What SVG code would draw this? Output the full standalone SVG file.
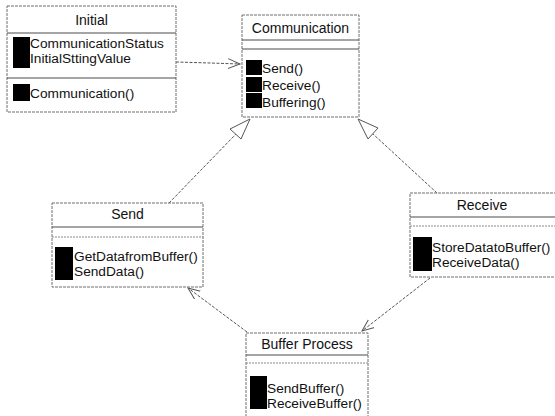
<svg xmlns="http://www.w3.org/2000/svg" width="555" height="416" viewBox="0 0 555 416">
  <style>
    .box { fill: #ffffff; stroke: #6e6e6e; stroke-width: 1; stroke-dasharray: 3 1; }
    .sep { stroke: #4a4a4a; stroke-width: 1; }
    .sep2 { stroke: #8a8a8a; stroke-width: 1; stroke-dasharray: 2 1; }
    .mark { fill: #000000; }
    .title { font-family: "Liberation Sans", Arial, sans-serif; font-size: 14px; fill: #111; text-anchor: middle; }
    .member { font-family: "Liberation Sans", Arial, sans-serif; font-size: 13.7px; fill: #111; }
    .link { fill: none; stroke: #555; stroke-width: 1; stroke-dasharray: 3 1.5; }
    .tri { fill: #ffffff; stroke: #555; stroke-width: 1; }
  </style>
  <defs>
    <marker id="open" markerUnits="userSpaceOnUse" markerWidth="14" markerHeight="12" refX="12" refY="5" orient="auto" viewBox="0 0 14 10">
      <path d="M0,0 L12,5 L0,10" fill="none" stroke="#555" stroke-width="1"/>
    </marker>
  </defs>

  <rect width="555" height="416" fill="#ffffff"/>

  <!-- connectors -->
  <g id="connectors">
    <!-- dependency: Initial uses Communication -->
    <polyline class="link" points="176,62 210,63 240,64" marker-end="url(#open)"/>
    <!-- generalization: Send -> Communication -->
    <line class="link" x1="169" y1="203" x2="236" y2="134"/>
    <polygon class="tri" points="250,119 230,129 241,139"/>
    <!-- generalization: Receive -> Communication -->
    <line class="link" x1="437" y1="193" x2="373" y2="134"/>
    <polygon class="tri" points="358,119 378,128 368,139"/>
    <!-- association: Receive -> Buffer Process -->
    <line class="link" x1="430" y1="278" x2="362" y2="331" marker-end="url(#open)"/>
    <!-- association: Buffer Process -> Send -->
    <line class="link" x1="247" y1="332" x2="188" y2="288" marker-end="url(#open)"/>
  </g>

  <!-- Initial -->
  <g id="initial">
    <rect class="box" x="7" y="6" width="169" height="106"/>
    <line class="sep" x1="7" y1="33" x2="176" y2="33"/>
    <line class="sep" x1="7" y1="78" x2="176" y2="78"/>
    <text class="title" x="91.5" y="25">Initial</text>
    <rect class="mark" x="13" y="37" width="17" height="31"/>
    <text class="member" x="30" y="48">CommunicationStatus</text>
    <text class="member" x="30" y="63">InitialSttingValue</text>
    <rect class="mark" x="13" y="84" width="17" height="17"/>
    <text class="member" x="30" y="98">Communication()</text>
  </g>

  <!-- Communication -->
  <g id="communication">
    <rect class="box" x="242" y="15" width="117" height="102"/>
    <line class="sep" x1="242" y1="40" x2="359" y2="40"/>
    <line class="sep" x1="242" y1="49" x2="359" y2="49"/>
    <text class="title" x="300.5" y="33">Communication</text>
    <rect class="mark" x="246" y="60" width="16" height="15"/>
    <rect class="mark" x="246" y="77" width="16" height="15"/>
    <rect class="mark" x="246" y="93" width="16" height="15"/>
    <text class="member" x="262" y="73">Send()</text>
    <text class="member" x="262" y="90">Receive()</text>
    <text class="member" x="262" y="107">Buffering()</text>
  </g>

  <!-- Send -->
  <g id="send">
    <rect class="box" x="52" y="203" width="151" height="84"/>
    <line class="sep" x1="52" y1="227" x2="203" y2="227"/>
    <line class="sep2" x1="52" y1="237" x2="203" y2="237"/>
    <text class="title" x="127.5" y="219">Send</text>
    <rect class="mark" x="55" y="247" width="18" height="33"/>
    <text class="member" x="74" y="261">GetDatafromBuffer()</text>
    <text class="member" x="74" y="276">SendData()</text>
  </g>

  <!-- Receive -->
  <g id="receive">
    <rect class="box" x="410" y="193" width="150" height="84"/>
    <line class="sep" x1="410" y1="217" x2="555" y2="217"/>
    <line class="sep2" x1="410" y1="226" x2="555" y2="226"/>
    <text class="title" x="482" y="210">Receive</text>
    <rect class="mark" x="413" y="237" width="19" height="34"/>
    <text class="member" x="432" y="252">StoreDatatoBuffer()</text>
    <text class="member" x="432" y="267">ReceiveData()</text>
  </g>

  <!-- Buffer Process -->
  <g id="buffer-process">
    <rect class="box" x="246" y="333" width="122" height="90"/>
    <line class="sep" x1="246" y1="355" x2="368" y2="355"/>
    <line class="sep2" x1="246" y1="363" x2="368" y2="363"/>
    <text class="title" x="307" y="349">Buffer Process</text>
    <rect class="mark" x="250" y="376" width="17" height="33"/>
    <text class="member" x="267" y="393">SendBuffer()</text>
    <text class="member" x="267" y="408">ReceiveBuffer()</text>
  </g>
</svg>
